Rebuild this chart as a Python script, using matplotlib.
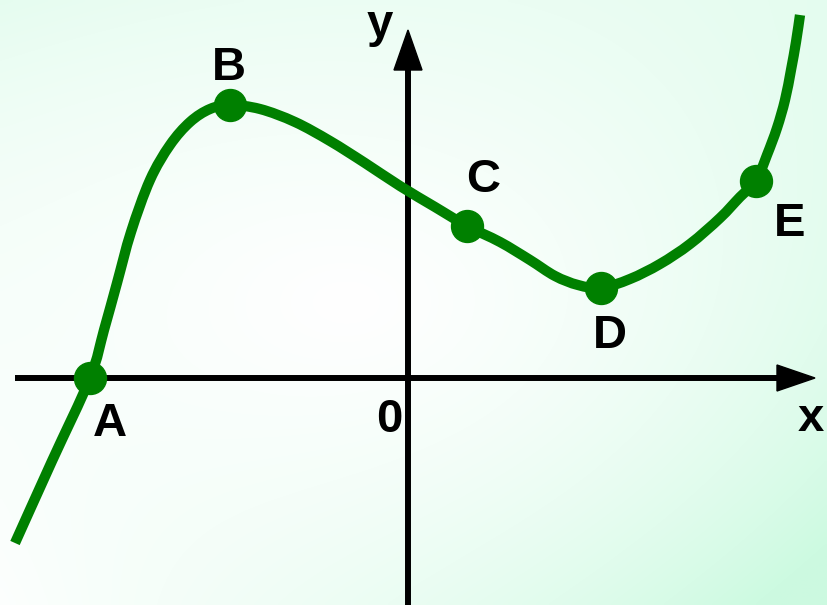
import matplotlib
matplotlib.use("Agg")
import matplotlib.pyplot as plt
from matplotlib.patches import Polygon, PathPatch
from matplotlib.path import Path
import numpy as np

# curve (origin at the axes crossing, y up)
curve_x = [-392, -355, -317, -303, -290, -276, -257, -237, -217, -197, -177,
           -147, -112, -77, -42, -7, 28, 60, 93, 123, 148, 171, 194,
           223, 253, 283, 313, 333, 349, 360, 370, 378, 384, 389, 393]
curve_y = [-165, -83, 0, 48, 95, 146, 198, 233, 256, 269, 273,
           269, 256, 237, 215, 192, 171, 152, 136, 118, 102, 93, 90,
           99, 114, 134, 160, 181, 197, 223, 250, 278, 308, 336, 363]

point_names = ["A", "B", "C", "D", "E"]
point_x = [-317, -177, 60, 194, 349]
point_y = [0, 273, 152, 90, 197]

label_x = [-297, -178, 76, 203, 383]
label_y = [-58, 298, 186, 30, 142]

green = "#008000"

fig = plt.figure(figsize=(8.27, 6.05), dpi=100)
ax = fig.add_axes([0, 0, 1, 1])
ax.set_xlim(-407, 420)
ax.set_ylim(-227, 378)
ax.axis("off")

# soft mint background: white in the middle, greener towards the corners
u, v = np.meshgrid(np.linspace(0, 1, 220), np.linspace(0, 1, 160))
corner = (0.5 * (1 - u) * (1 - v) + 0.45 * u * (1 - v)
          + 0.05 * (1 - u) * v + 1.0 * u * v)
r = np.clip(np.sqrt(((u - 0.42) / 0.58) ** 2 + ((v - 0.5) / 0.5) ** 2) / 1.41, 0, 1)
t = np.clip(corner * r ** 1.1 * 1.15, 0, 1)[..., None]
white = np.array([1.0, 1.0, 1.0])
mint = np.array([0.80, 0.98, 0.88])
bg = white * (1 - t) + mint * t
ax.imshow(bg, extent=(-407, 420, -227, 378), aspect="auto", zorder=0,
          interpolation="bilinear")

# axes with arrowheads
ax.plot([-392, 372], [0, 0], color="black", lw=4.3, solid_capstyle="butt", zorder=2)
ax.add_patch(Polygon([[370, 13], [408, 0], [370, -13]], closed=True,
                     color="black", zorder=2))
ax.plot([1, 1], [-227, 310], color="black", lw=4.3, solid_capstyle="butt", zorder=2)
ax.add_patch(Polygon([[-13, 308], [1, 348], [15, 308]], closed=True,
                     color="black", zorder=2))

# smooth path through the traced points (Catmull-Rom as Bezier segments)
pts = np.column_stack([curve_x, curve_y]).astype(float)
verts = [pts[0]]
codes = [Path.MOVETO]
for i in range(len(pts) - 1):
    p0 = pts[max(i - 1, 0)]
    p1 = pts[i]
    p2 = pts[i + 1]
    p3 = pts[min(i + 2, len(pts) - 1)]
    verts += [p1 + (p2 - p0) / 6, p2 - (p3 - p1) / 6, p2]
    codes += [Path.CURVE4] * 3
ax.add_patch(PathPatch(Path(verts, codes), fill=False, edgecolor=green,
                       lw=7.4, joinstyle="round", capstyle="butt", zorder=3))
ax.plot(point_x, point_y, "o", color=green, ms=23, zorder=4)

font = dict(family=["Liberation Sans", "DejaVu Sans"], weight="bold",
            size=34, color="black", ha="center", va="baseline", zorder=5)
for name, lx, ly in zip(point_names, label_x, label_y):
    ax.text(lx, ly, name, **font)
ax.text(-18, -54, "0", **font)
ax.text(404, -53, "x", **font)
ax.text(-27, 341, "y", **font)

fig.savefig("out.png", dpi=100)
